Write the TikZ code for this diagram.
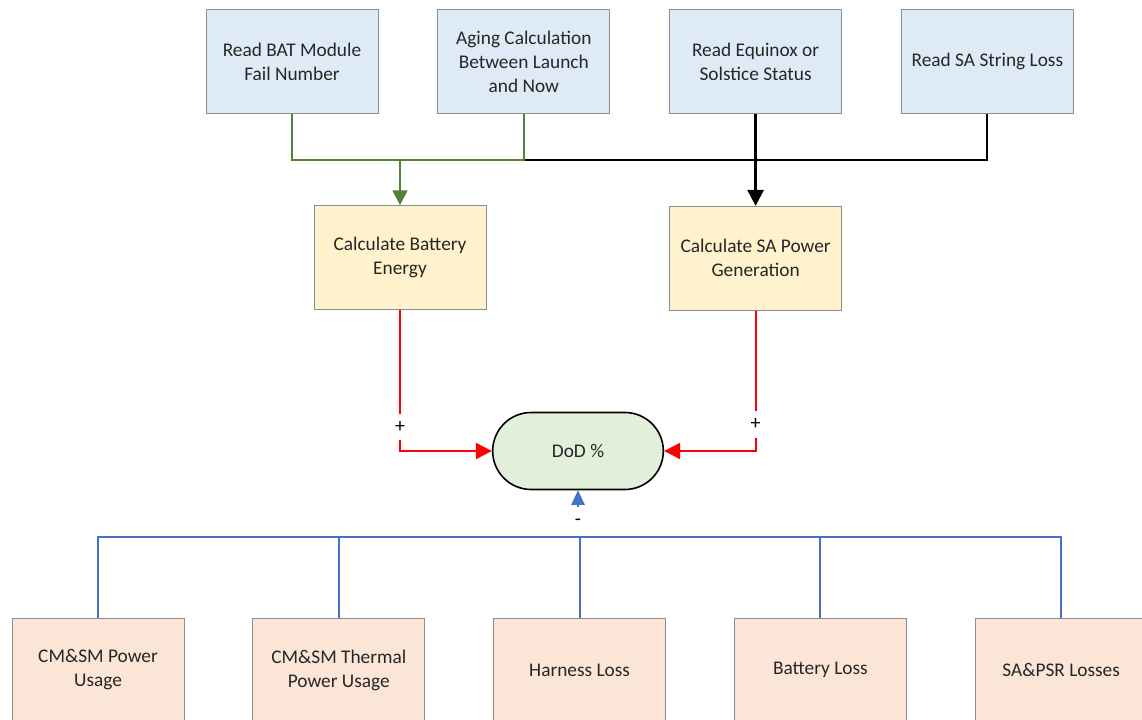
\documentclass[tikz,border=0pt]{standalone}
\usepackage{fontspec}
\setmainfont{Carlito}
\usetikzlibrary{shapes.misc,arrows.meta,positioning}
\definecolor{readfill}{HTML}{DEEBF7}
\definecolor{calcfill}{HTML}{FFF2CC}
\definecolor{lossfill}{HTML}{FBE5D6}
\definecolor{dodfill}{HTML}{E2EFDA}
\definecolor{boxedge}{HTML}{8C8C8C}
\definecolor{agegreen}{HTML}{548235}
\definecolor{sumred}{HTML}{FF0000}
\definecolor{lossblue}{HTML}{4472C4}
\tikzset{
  box/.style={rectangle, draw=boxedge, line width=0.6pt, minimum width=129pt, minimum height=78pt, align=center, font=\fontsize{14.5}{18}\selectfont, inner sep=2pt, text=black!85},
  readbox/.style={box, fill=readfill},
  calcbox/.style={box, fill=calcfill},
  lossbox/.style={box, fill=lossfill},
  sumnode/.style={rounded rectangle, draw, line width=1.2pt, fill=dodfill, minimum width=132pt, minimum height=57.75pt, font=\fontsize{14.5}{18}\selectfont, inner sep=2pt, text=black!85},
  sign/.style={fill=white, inner sep=1pt, minimum height=20pt, font=\fontsize{15}{18}\selectfont},
  gline/.style={draw=agegreen, line width=1.8pt},
  garr/.style={gline, -{Triangle[length=11pt,width=11pt]}},
  kline/.style={draw=black, line width=1.5pt},
  karr/.style={draw=black, line width=2.2pt, -{Triangle[length=12pt,width=12pt]}},
  rarr/.style={draw=sumred, line width=1.5pt, -{Triangle[length=12pt,width=12pt]}},
  bline/.style={draw=lossblue, line width=1.5pt},
  barr/.style={bline, -{Triangle[length=11pt,width=10pt]}}
}
\begin{document}
\begin{tikzpicture}[x=0.75pt, y=-0.75pt, node distance=44.25pt]
\useasboundingbox[fill=white] (0,0) rectangle (1142,720);
% inputs
\node[readbox] (rbat) at (292,61.5) {Read BAT Module\\Fail Number};
\node[readbox, right=of rbat] (age) {Aging Calculation\\Between Launch\\and Now};
\node[readbox, right=of age] (equi) {Read Equinox or\\Solstice Status};
\node[readbox, right=of equi] (sastr) {Read SA String Loss};
% calculations
\node[calcbox] (calcbat) at (400,257.5) {Calculate Battery\\Energy};
\node[calcbox, below=69pt of equi] (calcsa) {Calculate SA Power\\Generation};
% result
\node[sumnode] (dod) at (578,451) {DoD \%};
% losses
\node[lossbox] (use1) at (98,670) {CM\&SM Power\\Usage};
\node[lossbox, right=51pt of use1] (use2) {CM\&SM Thermal\\Power Usage};
\node[lossbox, right=51pt of use2] (harn) {Harness Loss};
\node[lossbox, right=51pt of harn] (batl) {Battery Loss};
\node[lossbox, right=51pt of batl] (psr) {SA\&PSR Losses};

\coordinate (gbus) at (400,160);
\coordinate (bbus) at (578,537);

\draw[kline] (age.south |- gbus) -| (sastr.south);
\draw[gline] (rbat.south) |- (gbus) -| (age.south);
\draw[garr] (gbus) -- (calcbat.north);
\draw[karr] (equi.south) -- (calcsa.north);

\draw[rarr] (calcbat.south) |- node[sign, pos=0.415] (plusl) {+} (dod.west);
\draw[rarr] (calcsa.south) |- node[sign, pos=0.405] (plusr) {+} (dod.east);

\draw[barr] (bbus) -- node[sign, pos=0.32, minimum height=22pt] (minus) {-} (dod.south);
\draw[bline] (use1.north) |- (bbus) -| (psr.north);
\foreach \n in {use2,harn,batl} \draw[bline] (\n.north) -- (\n.north |- bbus);
\end{tikzpicture}
\end{document}
